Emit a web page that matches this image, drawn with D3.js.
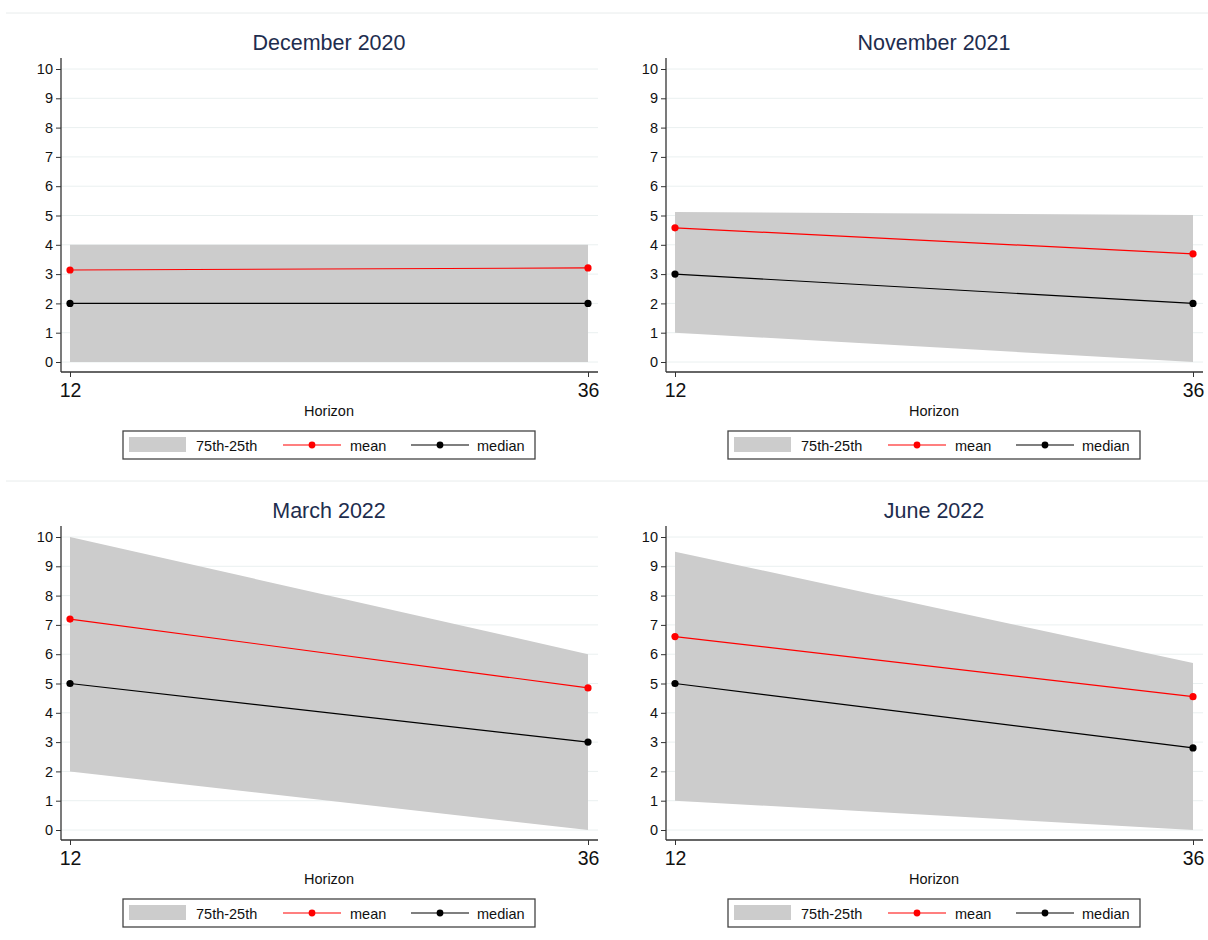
<!DOCTYPE html>
<html>
<head>
<meta charset="utf-8">
<script src="https://cdn.jsdelivr.net/npm/d3@7"></script>
<style>
  html, body { margin: 0; padding: 0; background: #fff; }
  svg { display: block; font-family: "Liberation Sans", Arial, sans-serif; }
</style>
</head>
<body>
<svg id="chart" width="1208" height="940"></svg>
<script>
// Survey of expected inflation by horizon (months)
const horizons = [12, 36];
const titles = ["December 2020", "November 2021", "March 2022", "June 2022"];
const p75 = [[4.0, 4.0], [5.12, 5.02], [10.0, 6.0], [9.5, 5.7]];
const p25 = [[0.0, 0.0], [1.0, 0.0], [2.0, 0.0], [1.0, 0.0]];
const meanVals = [[3.14, 3.21], [4.58, 3.69], [7.2, 4.85], [6.6, 4.55]];
const medianVals = [[2.0, 2.0], [3.0, 2.0], [5.0, 3.0], [5.0, 2.8]];
const yTicks = [0, 1, 2, 3, 4, 5, 6, 7, 8, 9, 10];
const legendItems = ["75th-25th", "mean", "median"];

const svg = d3.select("#chart");

// separator lines between rows
[13, 481].forEach(y => svg.append("line")
  .attr("x1", 6).attr("x2", 1208).attr("y1", y).attr("y2", y)
  .attr("stroke", "#e8ecec").attr("stroke-width", 1));

const panelW = 605, panelH = 468;

titles.forEach((title, i) => {
  const ox = (i % 2) * panelW, oy = Math.floor(i / 2) * panelH;
  const g = svg.append("g").attr("transform", `translate(${ox},${oy})`);

  const axisX = 61, axisY = 372, axisTop = 58, axisRight = 598;
  const x = d3.scaleLinear().domain([12, 36]).range([70, 588]);
  const y = d3.scaleLinear().domain([0, 10]).range([362, 69]);

  // horizontal gridlines
  g.append("g").selectAll("line").data(yTicks).join("line")
    .attr("x1", axisX).attr("x2", axisRight)
    .attr("y1", d => y(d)).attr("y2", d => y(d))
    .attr("stroke", "#eaf0f0").attr("stroke-width", 1);

  // interquartile band
  const band = horizons.map((h, k) => ({ h, hi: p75[i][k], lo: p25[i][k] }));
  g.append("path").datum(band)
    .attr("fill", "#cccccc")
    .attr("d", d3.area().x(d => x(d.h)).y0(d => y(d.lo)).y1(d => y(d.hi)));

  // mean and median lines with markers
  const series = [
    { vals: meanVals[i], color: "#ff0000" },
    { vals: medianVals[i], color: "#000000" }
  ];
  series.forEach(s => {
    const pts = horizons.map((h, k) => ({ h, v: s.vals[k] }));
    g.append("path").datum(pts)
      .attr("fill", "none").attr("stroke", s.color).attr("stroke-width", 1.2)
      .attr("d", d3.line().x(d => x(d.h)).y(d => y(d.v)));
    g.append("g").selectAll("circle").data(pts).join("circle")
      .attr("cx", d => x(d.h)).attr("cy", d => y(d.v)).attr("r", 3.6)
      .attr("fill", s.color);
  });

  // y axis
  const yAxis = g.append("g").attr("transform", `translate(${axisX},0)`)
    .call(d3.axisLeft(y).tickValues(yTicks).tickSize(5).tickPadding(3).tickFormat(d3.format("d")));
  yAxis.select(".domain").remove();
  yAxis.append("line").attr("x1", 0).attr("x2", 0).attr("y1", axisTop).attr("y2", axisY)
    .attr("stroke", "#333").attr("stroke-width", 1.3);
  yAxis.selectAll(".tick line").attr("stroke", "#333");
  yAxis.selectAll(".tick text").attr("font-size", 14.5).attr("fill", "#111");

  // x axis
  const xAxis = g.append("g").attr("transform", `translate(0,${axisY})`)
    .call(d3.axisBottom(x).tickValues(horizons).tickSize(5).tickPadding(6));
  xAxis.select(".domain").remove();
  xAxis.append("line").attr("x1", axisX).attr("x2", axisRight).attr("y1", 0).attr("y2", 0)
    .attr("stroke", "#333").attr("stroke-width", 1.3);
  xAxis.selectAll(".tick line").attr("stroke", "#333");
  xAxis.selectAll(".tick text").attr("font-size", 19.5).attr("fill", "#111");

  g.append("text").attr("x", 329).attr("y", 416).attr("text-anchor", "middle")
    .attr("font-size", 14.5).attr("fill", "#111").text("Horizon");

  g.append("text").attr("x", 329).attr("y", 50).attr("text-anchor", "middle")
    .attr("font-size", 21.5).attr("fill", "#1e2d4e").text(title);

  // legend
  const lg = g.append("g").attr("transform", "translate(123,431)");
  lg.append("rect").attr("x", 0).attr("y", 0).attr("width", 412).attr("height", 28)
    .attr("fill", "#fff").attr("stroke", "#444").attr("stroke-width", 1.3);
  lg.append("rect").attr("x", 6).attr("y", 6).attr("width", 57).attr("height", 15)
    .attr("fill", "#cccccc");
  const legendColors = ["#ff0000", "#000000"];
  const textX = [73, 227, 354];
  legendItems.forEach((name, k) => {
    if (k > 0) {
      const lx = k === 1 ? 160 : 288;
      lg.append("line").attr("x1", lx).attr("x2", lx + 58).attr("y1", 14).attr("y2", 14)
        .attr("stroke", legendColors[k - 1]).attr("stroke-width", 1.2);
      lg.append("circle").attr("cx", lx + 29).attr("cy", 14).attr("r", 3.4)
        .attr("fill", legendColors[k - 1]);
    }
    lg.append("text").attr("x", textX[k]).attr("y", 19.5)
      .attr("font-size", 14.5).attr("fill", "#111").text(name);
  });
});
</script>
</body>
</html>
